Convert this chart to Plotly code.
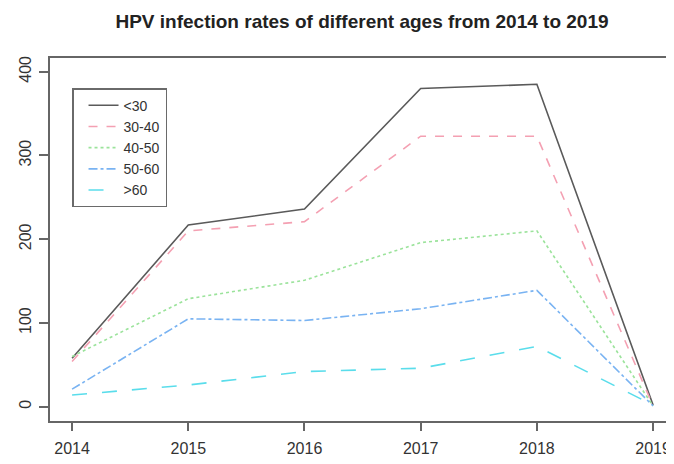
import plotly.graph_objects as go

years = [2014, 2015, 2016, 2017, 2018, 2019]
groups = ["<30", "30-40", "40-50", "50-60", ">60"]
v_lt30 = [58, 217, 236, 380, 385, 2]
v_30_40 = [54, 210, 221, 323, 323, 1]
v_40_50 = [60, 129, 151, 196, 210, 1]
v_50_60 = [21, 105, 103, 117, 139, 1]
v_gt60 = [14, 26, 42, 46, 72, 2]
series = [v_lt30, v_30_40, v_40_50, v_50_60, v_gt60]

colors = ["#5a5a5a", "#F4A0B2", "#9BE39B", "#79B3F2", "#5ADDEB"]
dashes = ["solid", "dash", "dot", "dashdot", "longdash"]

fig = go.Figure()
for name, vals, c, d in zip(groups, series, colors, dashes):
    fig.add_trace(go.Scatter(x=years, y=vals, name=name, mode="lines",
                             line=dict(color=c, width=1.6, dash=d)))

font = "Liberation Sans, Arial, sans-serif"
# page body has an 8px margin, so the figure is 8px smaller than the window
W, H = 666, 456
fig.update_layout(
    width=W, height=H,
    margin=dict(l=42, r=0, t=50, b=43),
    paper_bgcolor="white", plot_bgcolor="white",
    title=dict(text="<b>HPV infection rates of different ages from 2014 to 2019</b>",
               x=0.5, xanchor="center", y=1 - 13 / H, yanchor="middle",
               yref="container", xref="paper",
               font=dict(family=font, size=19, color="#222222")),
    showlegend=True,
    legend=dict(x=0.0353, y=0.917, xanchor="left", yanchor="top",
                bordercolor="#6a6a6a", borderwidth=1.5, bgcolor="white",
                font=dict(family=font, size=14, color="#333333"),
                itemwidth=30, indentation=10, entrywidth=90, entrywidthmode="pixels"),
    xaxis=dict(range=[2013.81, 2019.18], tickmode="array", tickvals=years,
               ticktext=[str(y) for y in years], showgrid=False, zeroline=False,
               showline=True, linecolor="#666666", linewidth=1.5, mirror=True,
               ticks="outside", ticklen=8, tickcolor="#666666", tickwidth=1.5,
               ticklabelstandoff=4,
               tickfont=dict(family=font, size=16, color="#333333")),
    yaxis=dict(range=[-17, 416.4], tickvals=[0, 100, 200, 300, 400],
               showgrid=False, zeroline=False,
               showline=True, linecolor="#666666", linewidth=1.5,
               ticks="outside", ticklen=9, tickcolor="#666666", tickwidth=1.5,
               tickangle=-90, ticklabelstandoff=2,
               tickfont=dict(family=font, size=16, color="#333333")),
)

fig.write_html("out.html")
